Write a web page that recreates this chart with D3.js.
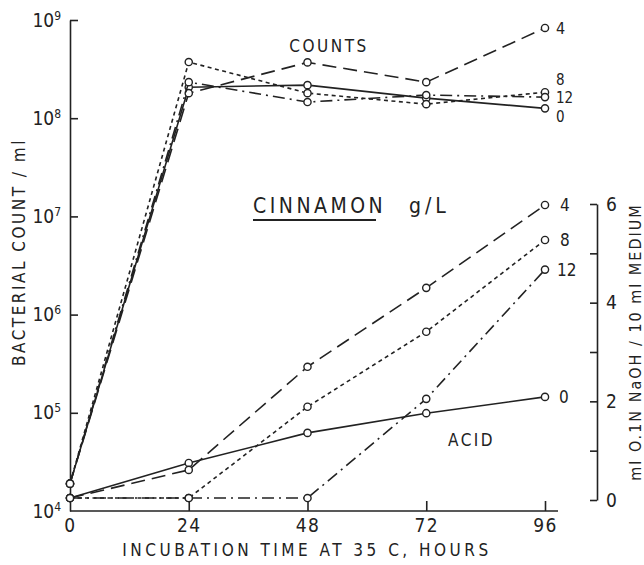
<!DOCTYPE html>
<html>
<head>
<meta charset="utf-8">
<script src="https://cdn.jsdelivr.net/npm/d3@7"></script>
<style>
  body { margin: 0; background: #fff; }
  svg text { font-family: "DejaVu Sans Condensed", "DejaVu Sans", sans-serif; font-stretch: condensed; fill: #222; }
</style>
</head>
<body>
<div id="chart"></div>
<script>
// incubation hours
const hours = [0, 24, 48, 72, 96]
const doses = ['0', '4', '8', '12']

// bacterial count / ml (log scale)
const counts0 = [1.9e4, 2.07e8, 2.17e8, 1.6e8, 1.26e8]
const counts4 = [1.9e4, 1.8e8, 3.7e8, 2.33e8, 8.3e8]
const counts8 = [1.9e4, 3.73e8, 1.8e8, 1.39e8, 1.84e8]
const counts12 = [1.9e4, 2.33e8, 1.46e8, 1.72e8, 1.64e8]

// ml 0.1N NaOH / 10 ml medium
const acid0 = [0.04, 0.75, 1.36, 1.76, 2.09]
const acid4 = [0.04, 0.61, 2.7, 4.3, 5.98]
const acid8 = [0.04, 0.04, 1.89, 3.41, 5.27]
const acid12 = [0.04, 0.04, 0.04, 2.05, 4.67]

const countTicks = [1e4, 1e5, 1e6, 1e7, 1e8, 1e9]
const acidTicks = [0, 1, 2, 3, 4, 5, 6]

const width = 644
const height = 565
const ink = '#222'

const dashes = {
  '0': null,
  '4': '14,7',
  '8': '4,3.5',
  '12': '12,5,2,5'
}

const x = d3.scaleLinear().domain([0, 96]).range([70, 545])
const yCount = d3.scaleLog().domain([1e4, 1e9]).range([511, 20])
const yAcid = d3.scaleLinear().domain([0, 6]).range([500, 204])

const svg = d3.select('#chart')
  .append('svg')
    .attr('width', width)
    .attr('height', height)

// left axis, ticks pointing inward
const leftAxis = svg.append('g')
  .attr('transform', `translate(${x(0)},0)`)
  .call(d3.axisLeft(yCount).tickValues(countTicks).tickSize(-8).tickSizeOuter(0).tickPadding(9))
leftAxis.selectAll('.tick text')
  .attr('font-size', 19)
  .each(function (d) {
    const t = d3.select(this)
    t.text('')
    t.append('tspan').text('10')
    t.append('tspan').attr('dy', -7).attr('font-size', 12).text(Math.round(Math.log10(d)))
  })
leftAxis.select('.tick:first-of-type line').remove()

// bottom axis, ticks pointing up
const bottomAxis = svg.append('g')
  .attr('transform', `translate(0,${yCount(1e4)})`)
  .call(d3.axisBottom(x).tickValues(hours).tickSize(-10).tickSizeOuter(0).tickPadding(8))
bottomAxis.select('.domain').attr('d', `M${x(0)},0H558`)
bottomAxis.selectAll('.tick text').attr('font-size', 19).attr('letter-spacing', 1.5)
bottomAxis.select('.tick:first-of-type line').remove()

// right axis for acid
const rightAxis = svg.append('g')
  .attr('transform', 'translate(597,0)')
  .call(d3.axisRight(yAcid).tickValues(acidTicks).tickSize(-7).tickSizeOuter(0).tickPadding(9)
    .tickFormat(d => d % 2 === 0 ? d : ''))
rightAxis.selectAll('.tick text').attr('font-size', 19)

svg.selectAll('.domain, .tick line').attr('stroke', ink).attr('stroke-width', 1.6)

const line = yScale => d3.line()
  .x((d, i) => x(hours[i]))
  .y(d => yScale(d))

const countSeries = [counts0, counts4, counts8, counts12]
const acidSeries = [acid0, acid4, acid8, acid12]

function drawSeries(list, yScale) {
  list.forEach((vals, k) => {
    const g = svg.append('g')
    g.append('path')
      .attr('d', line(yScale)(vals))
      .attr('fill', 'none')
      .attr('stroke', ink)
      .attr('stroke-width', 1.6)
      .attr('stroke-dasharray', dashes[doses[k]])
    g.selectAll('circle')
      .data(vals).enter()
      .append('circle')
        .attr('cx', (d, i) => x(hours[i]))
        .attr('cy', d => yScale(d))
        .attr('r', 3.6)
        .attr('fill', '#fff')
        .attr('stroke', ink)
        .attr('stroke-width', 1.4)
  })
}
drawSeries(countSeries, yCount)
drawSeries(acidSeries, yAcid)

// dose labels at the end of each line
const countLabelDy = { '0': 8, '4': 0, '8': -12, '12': 1 }
countSeries.forEach((vals, k) => {
  svg.append('text')
    .attr('x', x(96) + 11)
    .attr('y', yCount(vals[4]) + countLabelDy[doses[k]])
    .attr('dy', '0.35em')
    .attr('font-size', doses[k] === '4' ? 16 : 15)
    .text(doses[k])
})
const acidLabelDx = { '0': 14, '4': 15, '8': 15, '12': 12 }
acidSeries.forEach((vals, k) => {
  svg.append('text')
    .attr('x', x(96) + acidLabelDx[doses[k]])
    .attr('y', yAcid(vals[4]))
    .attr('dy', '0.35em')
    .attr('font-size', 17)
    .text(doses[k])
})

// annotations
svg.append('text')
  .attr('x', 329).attr('y', 52)
  .attr('text-anchor', 'middle')
  .attr('font-size', 17).attr('letter-spacing', 2.5)
  .text('COUNTS')

svg.append('text')
  .attr('x', 253).attr('y', 213)
  .attr('font-size', 21).attr('letter-spacing', 3.5)
  .text('CINNAMON')
svg.append('line')
  .attr('x1', 253).attr('x2', 376)
  .attr('y1', 220).attr('y2', 220)
  .attr('stroke', ink).attr('stroke-width', 1.8)
svg.append('text')
  .attr('x', 409).attr('y', 213)
  .attr('font-size', 21).attr('letter-spacing', 4)
  .text('g/L')

svg.append('text')
  .attr('x', 448).attr('y', 446)
  .attr('font-size', 17).attr('letter-spacing', 2.5)
  .text('ACID')

// axis titles
svg.append('text')
  .attr('transform', 'translate(25,252)rotate(-90)')
  .attr('text-anchor', 'middle')
  .attr('font-size', 17).attr('letter-spacing', 2.5)
  .text('BACTERIAL  COUNT / ml')

svg.append('text')
  .attr('transform', 'translate(641,342)rotate(-90)')
  .attr('text-anchor', 'middle')
  .attr('font-size', 16).attr('letter-spacing', 2)
  .text('ml O.1N NaOH / 10 ml MEDIUM')

svg.append('text')
  .attr('x', 307).attr('y', 556)
  .attr('text-anchor', 'middle')
  .attr('font-size', 17).attr('letter-spacing', 3.5)
  .text('INCUBATION  TIME AT  35 C,  HOURS')
</script>
</body>
</html>
